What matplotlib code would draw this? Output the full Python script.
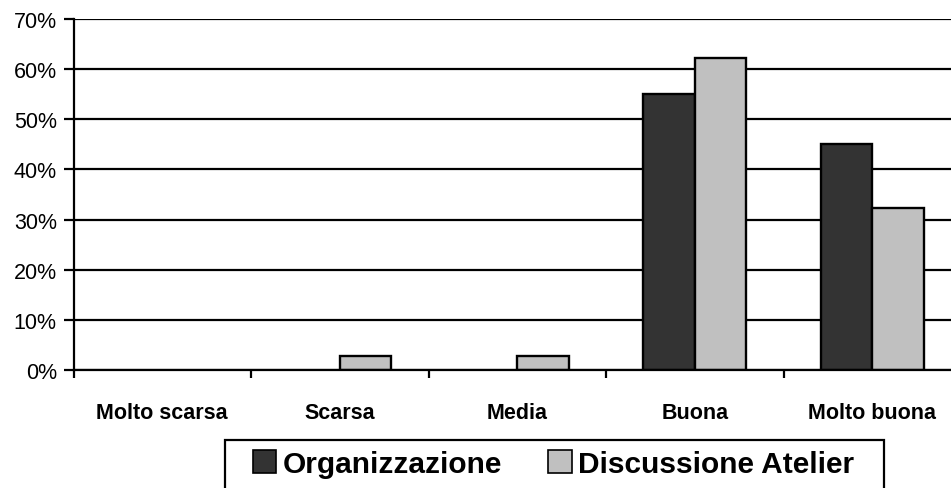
import numpy as np
import matplotlib.pyplot as plt
from matplotlib.patches import Rectangle, Patch

categories = ['Molto scarsa', 'Scarsa', 'Media', 'Buona', 'Molto buona']
organizzazione = [0.0, 0.0, 0.0, 55.0, 45.0]
discussione = [0.0, 2.7, 2.7, 62.2, 32.4]
series_names = ['Organizzazione', 'Discussione Atelier']
y_ticks = [0, 10, 20, 30, 40, 50, 60, 70]

plt.rcParams['font.family'] = ['Liberation Sans', 'DejaVu Sans']

W, H = 951, 489
fig = plt.figure(figsize=(W / 100, H / 100), dpi=100)

# plot area runs off the right edge of the picture
left, right, top, bottom = 73.5, 73.5 + 5 * 177.5, 20, 371
ax = fig.add_axes([left / W, 1 - bottom / H, (right - left) / W, (bottom - top) / H])

x = np.arange(len(categories))
w = 0.29
dark = '#333333'
light = '#c0c0c0'
for i in range(len(categories)):
    if organizzazione[i] > 0:
        ax.bar(x[i] - w / 2, organizzazione[i], w, color=dark, edgecolor='black',
               linewidth=1.7, zorder=3)
    if discussione[i] > 0:
        ax.bar(x[i] + w / 2, discussione[i], w, color=light, edgecolor='black',
               linewidth=1.7, zorder=3)

ax.set_xlim(-0.5, 4.5)
ax.set_ylim(0, 70)
ax.set_yticks(y_ticks)
ax.set_yticklabels([f'{t}%' for t in y_ticks], fontsize=15.5)
ax.yaxis.grid(True, color='black', linewidth=1.6, zorder=1)
ax.set_axisbelow(True)

ax.set_xticks(np.arange(-0.5, 5, 1))
ax.set_xticklabels([])
ax.set_xticks(x, minor=True)
ax.set_xticklabels(categories, minor=True, fontsize=15.5, fontweight='bold')
ax.tick_params(axis='x', which='minor', length=0, pad=23)
ax.tick_params(axis='x', which='major', length=6, width=1.6, direction='out')
ax.tick_params(axis='y', length=7, width=1.6, direction='out', pad=5)

for s in ['top', 'right']:
    ax.spines[s].set_visible(False)
for s in ['left', 'bottom']:
    ax.spines[s].set_linewidth(1.6)
    ax.spines[s].set_zorder(4)

# legend box, cut off by the bottom of the picture
fig.patches.append(Rectangle((225 / W, -0.1), (884 - 225) / W, 0.1 + 1 - 441 / H,
                             transform=fig.transFigure, fill=False,
                             edgecolor='black', linewidth=1.6))
handles = [Patch(facecolor=dark, edgecolor='black', linewidth=1.2),
           Patch(facecolor=light, edgecolor='black', linewidth=1.2)]
fig.legend(handles, series_names, loc='center left',
           bbox_to_anchor=(247 / W, 1 - 465 / H), ncol=2, frameon=False,
           prop={'size': 21.5, 'weight': 'bold'}, handlelength=0.78, handleheight=0.78,
           handletextpad=0.22, columnspacing=1.55, borderaxespad=0, borderpad=0.2)

fig.savefig('out.png', dpi=100)
